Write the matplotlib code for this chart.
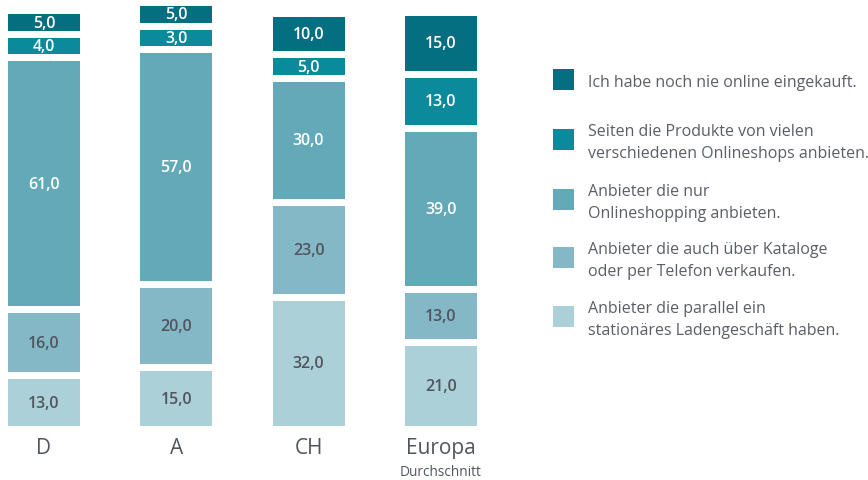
import matplotlib.pyplot as plt
from matplotlib.patches import Rectangle

plt.rcParams['font.family'] = ['Open Sans', 'DejaVu Sans']

# Anteile je Region, von unten nach oben gestapelt
regions = ["D", "A", "CH", "Europa"]
stationaer = [13, 15, 32, 21]
katalog = [16, 20, 23, 13]
nur_online = [61, 57, 30, 39]
marktplatz = [4, 3, 5, 13]
nie_online = [5, 5, 10, 15]

series = [stationaer, katalog, nur_online, marktplatz, nie_online]
colors = ["#acd0d8", "#84b8c6", "#63a9b8", "#0a8a9a", "#036f80"]
label_colors = ["#50555e", "#50555e", "white", "white", "white"]
legend_labels = [
    "Ich habe noch nie online eingekauft.",
    "Seiten die Produkte von vielen\nverschiedenen Onlineshops anbieten.",
    "Anbieter die nur\nOnlineshopping anbieten.",
    "Anbieter die auch über Kataloge\noder per Telefon verkaufen.",
    "Anbieter die parallel ein\nstationäres Ladengeschäft haben.",
]

W, H = 868, 481
fig = plt.figure(figsize=(W / 100, H / 100), dpi=100)
ax = fig.add_axes([0, (H - 427) / H, 500 / W, 420 / H])

gap = 1.7      # weisser Abstand zwischen den Segmenten
min_h = 4.0    # kleine Segmente bleiben gross genug fuer die Beschriftung
step = 132.3
x = list(range(len(regions)))
bottom = [0.0] * len(regions)
for vals, col, tcol in zip(series, colors, label_colors):
    hs = [max(v - gap, min_h) for v in vals]
    ax.bar(x, hs, bottom=bottom, width=72 / step, color=col, linewidth=0)
    for xi, b, v, h in zip(x, bottom, vals, hs):
        ax.text(xi, b + h / 2, f"{v:.1f}".replace(".", ","), ha="center", va="center",
                color=tcol, fontsize=11.5, fontweight="semibold")
    bottom = [b + h + gap for b, h in zip(bottom, hs)]

ax.set_xlim(-44 / step, (500 - 44) / step)
ax.set_ylim(0, max(bottom) - gap)
ax.axis("off")

for xi, name in zip(x, regions):
    ax.text(xi, -5.3, name, ha="center", va="center", fontsize=15, color="#50555e")
ax.text(3, -11.0, "Durchschnitt", ha="center", va="center", fontsize=9.8, color="#50555e")

# Legende von Hand
sq_tops = [70, 130, 190, 248, 307]
for top, col, lab in zip(sq_tops, colors[::-1], legend_labels):
    fig.patches.append(Rectangle((553 / W, (H - top - 21) / H), 21 / W, 21 / H,
                                 transform=fig.transFigure, color=col, linewidth=0))
    fig.text(588 / W, (H - top - 13) / H, lab, ha="left", va="center", fontsize=11.5,
             color="#5a5f66", linespacing=1.45)

fig.savefig("out.png", dpi=100)
